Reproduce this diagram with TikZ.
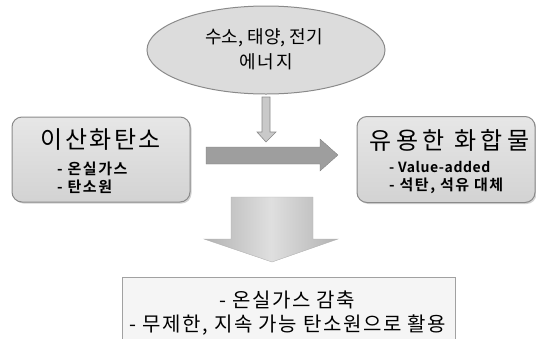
\documentclass[tikz,border=0pt]{standalone}
\usepackage{fontspec}
\setmainfont{Noto Sans CJK KR}
\newfontfamily\krb{Noto Sans CJK KR Bold}
\usetikzlibrary{shapes.geometric,shadows}
\definecolor{boxfill}{HTML}{DCDCDC}
\definecolor{boxline}{HTML}{8A8A8A}
\definecolor{arrfill}{HTML}{9E9E9E}
\tikzset{
  rbox/.style={draw=boxline, line width=1pt, rounded corners=10pt, top color=white!30!boxfill, bottom color=boxfill!90!gray,
    drop shadow={shadow xshift=1.5pt, shadow yshift=-1.5pt, fill=gray!70}},
  ell/.style={draw=boxline, line width=1pt, fill=boxfill},
  bigarrow/.style={fill=arrfill, draw=arrfill!80!black, line width=0.3pt},
  smallarrow/.style={fill=boxfill!80!gray, draw=boxline, line width=0.6pt},
  btmbox/.style={draw=boxline!80, line width=1pt, fill=gray!8},
  txt/.style={inner sep=0pt, anchor=center},
  subtxt/.style={inner sep=0pt, anchor=west, font=\krb\fontsize{15}{17}\selectfont\addfontfeature{LetterSpace=10}}
}
\begin{document}
\begin{tikzpicture}[x=1pt,y=-1pt]
\useasboundingbox (0,0) rectangle (536,338);
% ellipse
\node[ell, ellipse, minimum width=238pt, minimum height=88pt] (energy) at (266,50) {};
\node[txt, font=\fontsize{18}{20}\selectfont] (e1) at (264,38) {수소, 태양, 전기};
\node[txt, font=\fontsize{18}{20}\selectfont\addfontfeature{LetterSpace=10}] (e2) at (266,62) {에너지};
% small down arrow
\draw[smallarrow] (262,97) -- (270,97) -- (270,132) -- (276,132) -- (266,142) -- (257,132) -- (262,132) -- cycle;
% left box
\node[rbox, minimum width=178pt, minimum height=85pt] (co2) at (101,159.5) {};
\node[txt, font=\fontsize{24}{26}\selectfont\addfontfeature{LetterSpace=10}] (co2t) at (101,140) {이산화탄소};
\node[subtxt] (co2a) at (57,169) {- 온실가스};
\node[subtxt] (co2b) at (57,187) {- 탄소원};
% right box
\node[rbox, minimum width=178pt, minimum height=86pt] (prod) at (446,159.5) {};
\node[txt, font=\fontsize{24}{26}\selectfont\addfontfeature{LetterSpace=18}] (prodt) at (449.5,140) {유용한 화합물};
\node[subtxt, font=\krb\fontsize{14}{16}\selectfont\addfontfeature{LetterSpace=4}] (proda) at (389,167) {- Value-added};
\node[subtxt] (prodb) at (389,186) {- 석탄, 석유 대체};
% big right arrow
\draw[bigarrow] (206,147) -- (320,147) -- (320,139) -- (338,155) -- (320,171) -- (320,164) -- (206,164) -- cycle;
% big down arrow
\shade[left color=gray!60, right color=gray!60, middle color=gray!25, draw=gray!60]
  (231,197) -- (313,197) -- (313,239) -- (338,239) -- (272,262) -- (204,239) -- (231,239) -- cycle;
% bottom box
\node[btmbox, minimum width=333pt, minimum height=66pt, anchor=north] (res) at (288.5,277) {};
\node[txt, font=\fontsize{20}{22}\selectfont\addfontfeature{LetterSpace=8}] (r1) at (287,300) {- 온실가스 감축};
\node[txt, font=\fontsize{20}{22}\selectfont\addfontfeature{LetterSpace=8}] (r2) at (288,325) {- 무제한, 지속 가능 탄소원으로 활용};
\end{tikzpicture}
\end{document}
